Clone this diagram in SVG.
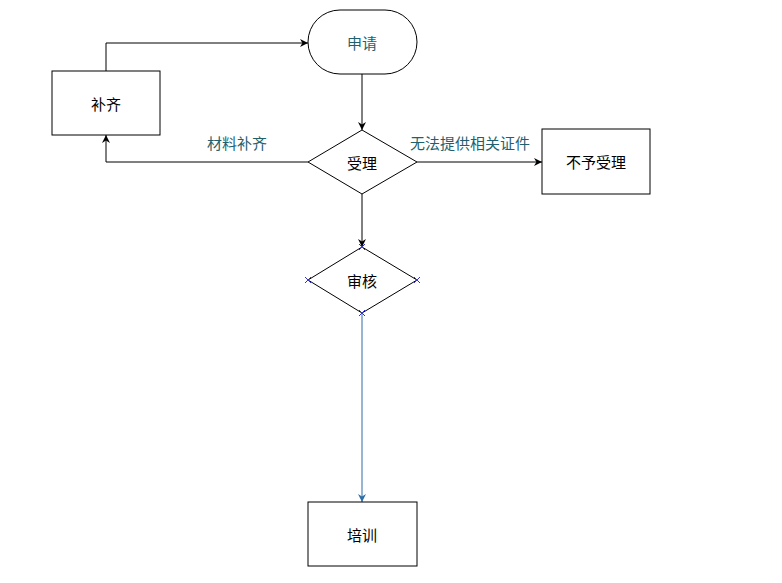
<svg xmlns="http://www.w3.org/2000/svg" width="782" height="583" viewBox="0 0 782 583">
<style>
.n{fill:#fff;stroke:#000;stroke-width:1}
.t{font-family:"Noto Sans CJK SC","Liberation Sans",sans-serif;font-size:15px;fill:#000;text-anchor:middle;dominant-baseline:central}
.tl{fill:#1f5f6e}
.c{fill:none;stroke:#000;stroke-width:1}
.cb{fill:none;stroke:#2f6da8;stroke-width:1}
.x{stroke:#3333cc;stroke-width:1}
</style>
<defs>
<marker id="a" viewBox="0 0 10 10" refX="10" refY="5" markerWidth="8" markerHeight="8" orient="auto" markerUnits="userSpaceOnUse"><path d="M0,0 L10,5 L0,10 L3,5 z" fill="#000"/></marker>
<marker id="ab" viewBox="0 0 10 10" refX="10" refY="5" markerWidth="8" markerHeight="8" orient="auto" markerUnits="userSpaceOnUse"><path d="M0,0 L10,5 L0,10 L3,5 z" fill="#2f6da8"/></marker>
</defs>
<rect width="782" height="583" fill="#fff"/>
<g id="connectors">
<path class="c" d="M362,74 V130" marker-end="url(#a)"/>
<path class="c" d="M106,71 V43 H308" marker-end="url(#a)"/>
<path class="c" d="M308,162 H106 V135" marker-end="url(#a)"/>
<path class="c" d="M417,162 H542" marker-end="url(#a)"/>
<path class="c" d="M362,194 V247" marker-end="url(#a)"/>
<path class="cb" d="M362,313 V502" marker-end="url(#ab)"/>
<text class="t tl" x="237" y="142">材料补齐</text>
<text class="t tl" x="470" y="142">无法提供相关证件</text>
</g>
<g id="n1"><rect class="n" x="308" y="10" width="109" height="64" rx="32" ry="32"/><text class="t tl" x="362" y="42">申请</text></g>
<g id="n2"><polygon class="n" points="362,130 417,162 362,194 308,162"/><text class="t" x="362" y="162">受理</text></g>
<g id="n3"><rect class="n" x="52" y="71" width="108" height="64"/><text class="t" x="106" y="103">补齐</text></g>
<g id="n4"><rect class="n" x="542" y="129" width="108" height="65"/><text class="t" x="596" y="161">不予受理</text></g>
<g id="n5"><polygon class="n" points="362,247 417,280 362,313 308,280"/><text class="t" x="362" y="280">审核</text>
<g class="x"><path d="M359,244 l6,6 M365,244 l-6,6"/><path d="M359,310 l6,6 M365,310 l-6,6"/><path d="M305,277 l6,6 M311,277 l-6,6"/><path d="M414,277 l6,6 M420,277 l-6,6"/></g></g>
<g id="n6"><rect class="n" x="308" y="502" width="109" height="64"/><text class="t" x="362" y="534">培训</text></g>
</svg>
